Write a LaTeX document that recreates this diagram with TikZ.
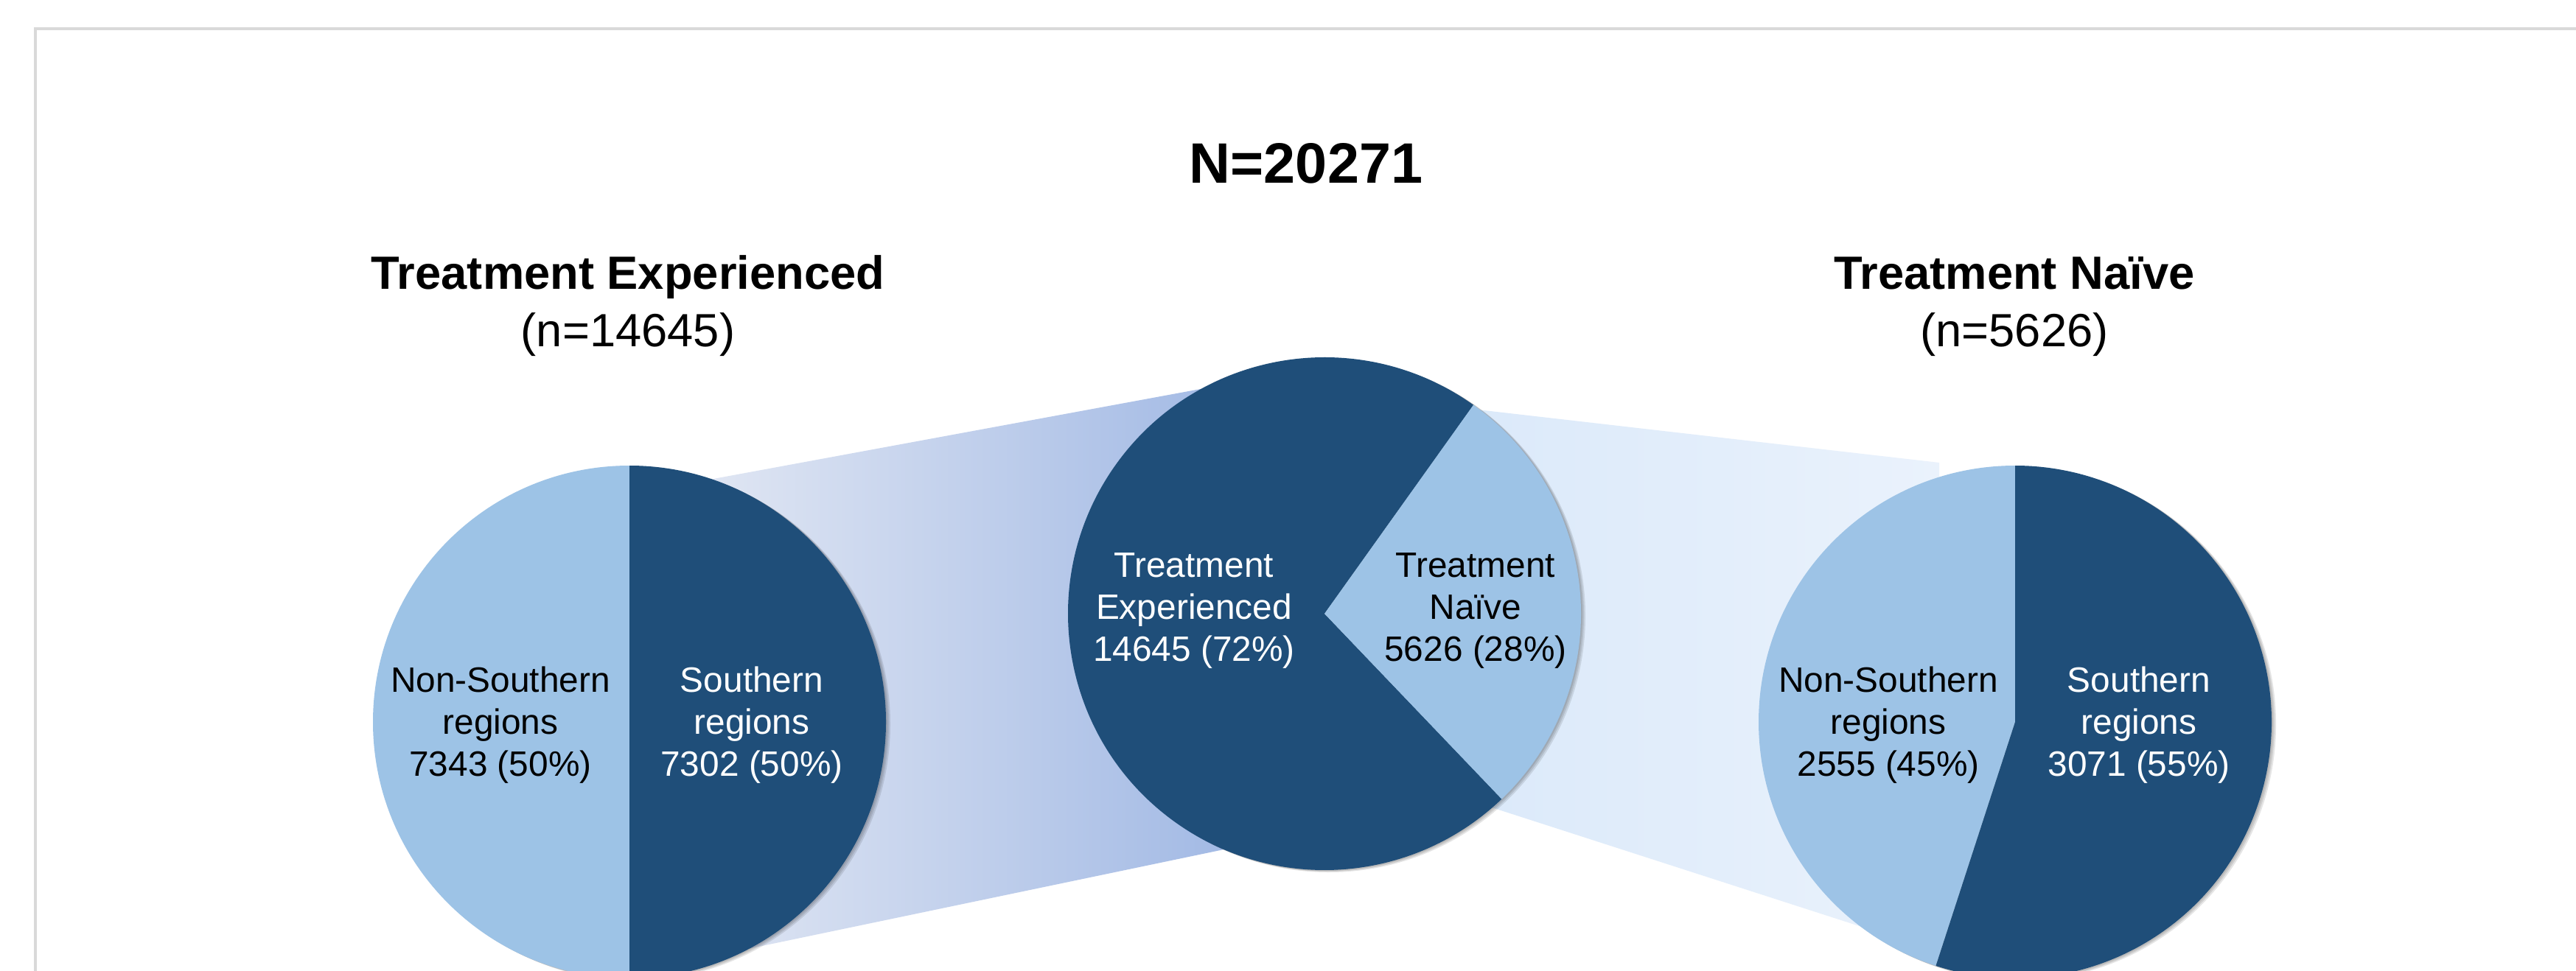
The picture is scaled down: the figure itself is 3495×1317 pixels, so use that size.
\documentclass[tikz,border=0pt]{standalone}
\usepackage{fontspec}
\setmainfont{Liberation Sans}
\usepackage{tikz}

\definecolor{darkblue}{HTML}{1F4E79}
\definecolor{lightblue}{HTML}{9DC3E6}
\definecolor{bandla}{HTML}{E0E6F3}
\definecolor{bandlb}{HTML}{CAD6EF}
\definecolor{bandlc}{HTML}{A0B8E4}
\definecolor{bandra}{HTML}{D9E8F9}
\definecolor{bandrb}{HTML}{EAF2FC}

\begin{document}
\begin{tikzpicture}[x=0.01cm,y=0.01cm,
  lbl/.style={align=center,anchor=base,inner sep=0pt,font=\fontsize{13.6}{16.2}\selectfont},
  hd/.style={align=center,anchor=base,inner sep=0pt,font=\fontsize{18}{21.9}\selectfont}]
\clip (0,0) rectangle (3495,1317);
\fill[white] (0,0) rectangle (3495,1317);
\draw[black!15,line width=0.9pt] (48,-10) -- (48,1278) -- (3510,1278);
\coordinate (pl) at (854,337);
\coordinate (pc) at (1797,484);
\coordinate (pr) at (2734,337);
\shade[left color=bandla,middle color=bandlb,right color=bandlc] (957,17) -- (957,665) -- (1694,801) -- (1694,171) -- cycle;
\shade[left color=bandra,right color=bandrb] (1900,261) -- (1900,773) -- (2631,689) -- (2631,25) -- cycle;
\foreach \c in {pl,pc,pr} \foreach \s in {2,4,6} \fill[black,opacity=0.1] (\c)+(\s,-\s/2) circle[radius=348];
\fill[lightblue] (pl) -- ++(90:348) arc[start angle=90,end angle=270,radius=348] -- cycle;
\fill[darkblue] (pl) -- ++(-90:348) arc[start angle=-90,end angle=90,radius=348] -- cycle;
\fill[darkblue] (pc) -- ++(54.5:348) arc[start angle=54.5,end angle=313.7,radius=348] -- cycle;
\fill[lightblue] (pc) -- ++(-46.3:348) arc[start angle=-46.3,end angle=54.5,radius=348] -- cycle;
\fill[lightblue] (pr) -- ++(90:348) arc[start angle=90,end angle=252,radius=348] -- cycle;
\fill[darkblue] (pr) -- ++(252:348) arc[start angle=252,end angle=450,radius=348] -- cycle;
\node[anchor=base,inner sep=0pt,font=\fontsize{22}{26}\selectfont\bfseries] (total) at (1772,1068) {N=20271};
\node[hd] (exp) at (852,847) {\textbf{Treatment Experienced}\\(n=14645)};
\node[hd] (nai) at (2733,847) {\textbf{Treatment Naïve}\\(n=5626)};
\node[lbl,white] (cexp) at (1620,420) {Treatment\\Experienced\\14645 (72\%)};
\node[lbl] (cnai) at (2002,420) {Treatment\\Naïve\\5626 (28\%)};
\node[lbl] (lnon) at (679,264) {Non-Southern\\regions\\7343 (50\%)};
\node[lbl,white] (lsou) at (1020,264) {Southern\\regions\\7302 (50\%)};
\node[lbl] (rnon) at (2562,264) {Non-Southern\\regions\\2555 (45\%)};
\node[lbl,white] (rsou) at (2902,264) {Southern\\regions\\3071 (55\%)};
\end{tikzpicture}
\end{document}
